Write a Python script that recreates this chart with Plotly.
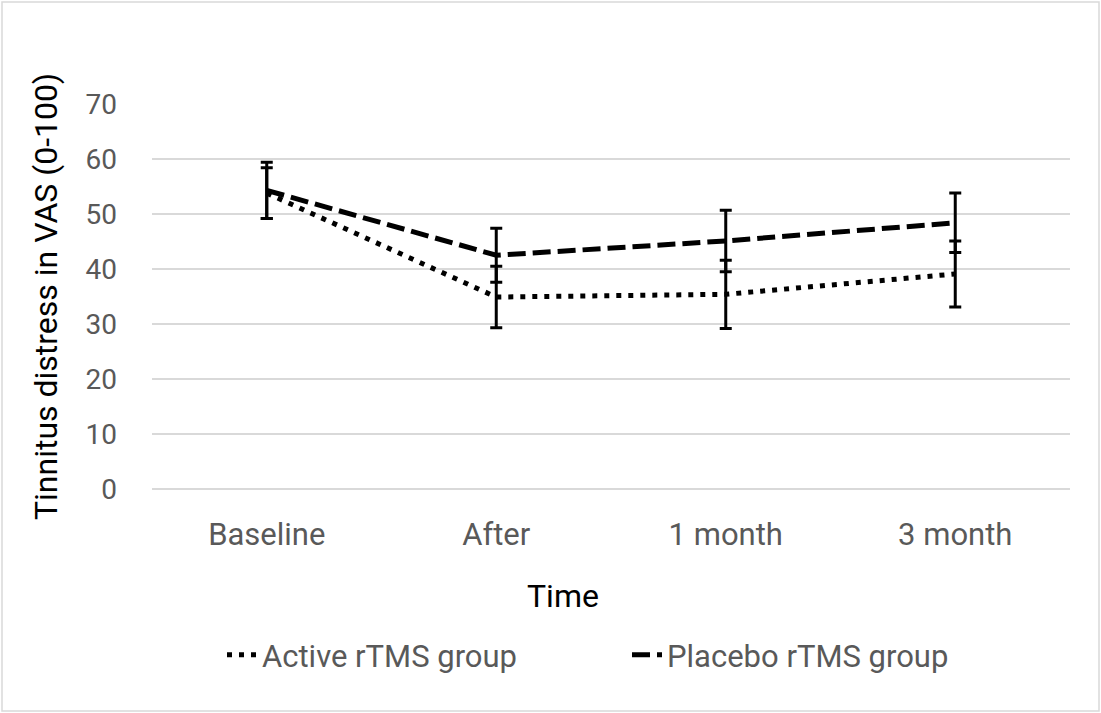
import plotly.graph_objects as go

categories = ["Baseline", "After", "1 month", "3 month"]
active_mean = [53.8, 34.9, 35.4, 39.1]
active_err = [4.6, 5.6, 6.2, 6.0]
placebo_mean = [54.3, 42.5, 45.1, 48.4]
placebo_err = [5.1, 4.9, 5.6, 5.4]
y_ticks = [0, 10, 20, 30, 40, 50, 60, 70]

W, H = 1101, 713
ml, mr, mt, mb = 152, 31, 104, 224
FONT = "Roboto, Liberation Sans, sans-serif"
pw = W - ml - mr
ph = H - mt - mb

fig = go.Figure()
fig.add_trace(go.Scatter(
    x=categories, y=active_mean, mode="lines", name="Active rTMS group",
    line=dict(color="black", width=5, dash="5px,7px"),
    error_y=dict(type="data", array=active_err, visible=True, color="black", thickness=3, width=6),
))
fig.add_trace(go.Scatter(
    x=categories, y=placebo_mean, mode="lines", name="Placebo rTMS group",
    line=dict(color="black", width=5, dash="18px,7px"),
    error_y=dict(type="data", array=placebo_err, visible=True, color="black", thickness=3, width=6),
))

fig.add_shape(type="rect", xref="paper", yref="paper",
              x0=(2 - ml) / pw, x1=(W - 2 - ml) / pw,
              y0=-(H - 2 - mt - ph) / ph, y1=1 + (mt - 2) / ph,
              line=dict(color="#d9d9d9", width=1.5), layer="below")

fig.add_annotation(text="Time", xref="paper", yref="paper",
                   x=(563 - ml) / pw, y=-(596 - mt - ph) / ph,
                   xanchor="center", yanchor="middle", showarrow=False,
                   font=dict(family=FONT, size=32, color="black"))

fig.update_layout(
    width=W, height=H,
    margin=dict(l=ml, r=mr, t=mt, b=mb, autoexpand=False),
    paper_bgcolor="white", plot_bgcolor="white",
    font=dict(family=FONT, size=31, color="#595959"),
    xaxis=dict(
        range=[-0.5, 3.5], showgrid=False, showline=False, ticks="",
        ticklabelstandoff=24, automargin=False,
        tickfont=dict(size=31, color="#595959"),
    ),
    yaxis=dict(
        range=[0, 70], tickvals=y_ticks, showgrid=True, gridcolor="#d9d9d9", gridwidth=1.5,
        zeroline=True, zerolinecolor="#d9d9d9", zerolinewidth=1.5,
        showline=False, ticks="", ticklabelstandoff=34, automargin=False,
        tickfont=dict(size=28, color="#595959"),
        title=dict(text="Tinnitus distress in VAS (0-100)", font=dict(size=32, color="black"), standoff=18),
    ),
    legend=dict(orientation="h", x=(222 - ml) / pw, xanchor="left", y=-(628 - mt - ph) / ph, yanchor="top",
                font=dict(size=31, color="#595959"), entrywidth=360, entrywidthmode="pixels",
                traceorder="normal"),
    showlegend=True,
)

fig.write_html("out.html", config={"displayModeBar": False},
               post_script="document.body.style.margin='0';")
